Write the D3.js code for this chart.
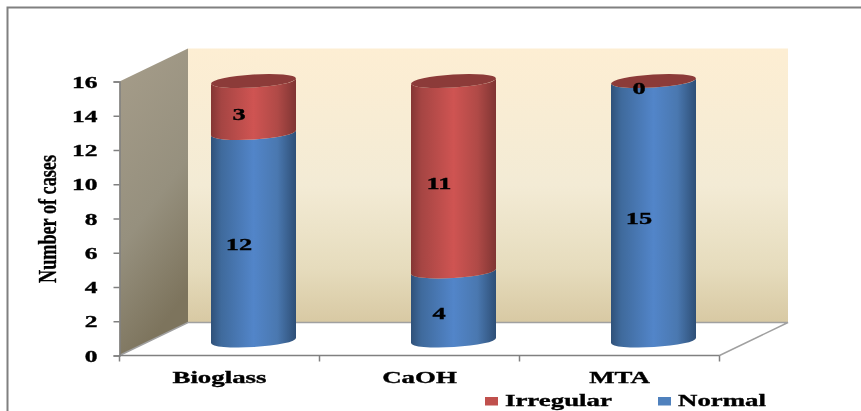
<!DOCTYPE html>
<html>
<head>
<meta charset="utf-8">
<script src="https://cdn.jsdelivr.net/npm/d3@7"></script>
<style>
    body { margin: 0; background: #fff; }
    svg { filter: blur(0.4px); }
    text { font-family: "Liberation Serif", serif; font-weight: bold; fill: #000; stroke: #000; stroke-width: 0.35px; }
</style>
</head>
<body>
<div id="chart"></div>
<script>
// data
const categories = ['Bioglass', 'CaOH', 'MTA']
const normal = [12, 4, 15]
const irregular = [3, 11, 0]
const yTicks = [0, 2, 4, 6, 8, 10, 12, 14, 16]
const seriesNames = ['Normal', 'Irregular']
const legendOrder = ['Irregular', 'Normal']

function draw(){
    const dimensions = { width: 861, height: 411 }
    const stretch = 1.58   // the picture is stretched sideways
    const depth = { x: 68.5, y: -33 }
    const barOffset = 34

    const svg = d3.select('#chart')
        .append('svg')
        .attr('width', dimensions.width)
        .attr('height', dimensions.height)
        .style('display', 'block')

    // frame, only top and left
    svg.append('path')
        .attr('d', 'M7.5,413V7.5H863')
        .attr('fill', 'none')
        .attr('stroke', '#808080')
        .attr('stroke-width', 2)

    // set Scale
    const yScale = d3.scaleLinear().domain([0, 16]).range([355.5, 81.5])
    const barY = d3.scaleLinear().domain([0, 15]).range([340.5, 81])
    const xScale = d3.scaleBand().domain(categories).range([119.5, 719.5])

    const colors = { Normal: '#4f81bd', Irregular: '#c0504d' }

    // gradients
    const defs = svg.append('defs')

    const addLinear = (id, x2, y2, stops) => {
        const g = defs.append('linearGradient').attr('id', id)
            .attr('x1', 0).attr('y1', 0).attr('x2', x2).attr('y2', y2)
        stops.forEach(s => g.append('stop').attr('offset', s[0]).attr('stop-color', s[1]))
    }
    addLinear('backWall', 0, 1, [[0, '#fdeed3'], [0.5, '#f3ebd5'], [0.8, '#e6dcbd'], [1, '#d8c9a3']])
    addLinear('sideWall', 0.3, 1, [[0, '#a69d8a'], [0.6, '#96907e'], [1, '#7d745d']])
    addLinear('cylNormal', 1, 0, [[0, '#2f5179'], [0.12, '#3f6a9c'], [0.5, '#5285c9'], [0.78, '#4a78b0'], [1, '#2e4f77']])
    addLinear('cylIrregular', 1, 0, [[0, '#843634'], [0.12, '#a54543'], [0.5, '#cf5452'], [0.78, '#b04a47'], [1, '#803533']])

    // walls
    const x0 = xScale.range()[0]
    const x1 = xScale.range()[1]
    const yBase = yScale(0)
    const yTop = yScale(16)

    svg.append('polygon')
        .attr('points', [[x0 + depth.x, yTop + depth.y], [x1 + depth.x, yTop + depth.y],
            [x1 + depth.x, yBase + depth.y], [x0 + depth.x, yBase + depth.y]].join(' '))
        .attr('fill', 'url(#backWall)')

    svg.append('polygon')
        .attr('points', [[x0, yTop], [x0 + depth.x, yTop + depth.y],
            [x0 + depth.x, yBase + depth.y], [x0, yBase]].join(' '))
        .attr('fill', 'url(#sideWall)')

    // floor edges
    svg.append('path')
        .attr('d', `M${x0},${yBase}L${x0 + depth.x},${yBase + depth.y}H${x1 + depth.x}L${x1},${yBase}`)
        .attr('fill', 'none')
        .attr('stroke', '#a0a0a0')
        .attr('stroke-width', 1.4)

    // cylinders
    const rx = xScale.bandwidth() * 0.2125
    const ry = 6.6
    const tilt = -3.5
    const lift = rx * Math.sin(-tilt * Math.PI / 180)

    const stackData = d3.stack().keys(seriesNames)(
        categories.map((c, i) => ({ name: c, Normal: normal[i], Irregular: irregular[i] }))
    )

    const center = name => xScale(name) + xScale.bandwidth() / 2 + barOffset

    const sidePath = (cx, yLow, yHigh) => {
        const l = cx - rx
        const r = cx + rx
        return `M${l},${yLow + lift}`
            + `A${rx},${ry} ${tilt} 0 0 ${r},${yLow - lift}`
            + `L${r},${yHigh - lift}`
            + `A${rx},${ry} ${tilt} 0 1 ${l},${yHigh + lift}Z`
    }

    const groups = svg.append('g').selectAll('g')
        .data(stackData)
        .join('g')

    groups.selectAll('path')
        .data(d => d.map(v => ({ key: d.key, v })))
        .join('path')
        .attr('d', d => sidePath(center(d.v.data.name), barY(d.v[0]), barY(d.v[1])))
        .attr('fill', d => `url(#cyl${d.key})`)

    // top caps
    svg.append('g').selectAll('ellipse')
        .data(categories)
        .join('ellipse')
        .attr('transform', (d, i) => `translate(${center(d)},${barY(normal[i] + irregular[i])}) rotate(${tilt})`)
        .attr('rx', rx)
        .attr('ry', ry)
        .attr('fill', '#8c3b39')

    // value labels
    const labels = stackData.flatMap(s => s.map(v => ({ v })))
    svg.append('g').selectAll('text')
        .data(labels)
        .join('text')
        .attr('transform', d => {
            const y = (barY(d.v[0]) + barY(d.v[1])) / 2 + 7.5
            return `translate(${center(d.v.data.name) - 14.5},${y}) scale(1.55,1)`
        })
        .attr('text-anchor', 'middle')
        .attr('dy', '0.33em')
        .style('font-size', '17px')
        .text(d => d.v[1] - d.v[0])

    // y axis
    const yAxis = svg.append('g')
        .attr('transform', `translate(${x0},0)`)
        .call(d3.axisLeft(yScale).tickValues(yTicks).tickSize(6).tickFormat(d3.format('d')))
    yAxis.selectAll('.domain, line').attr('stroke', '#808080').attr('stroke-width', 1.5)
    yAxis.selectAll('text')
        .attr('x', 0)
        .attr('dy', '0.33em')
        .attr('transform', 'translate(-22,0) scale(1.5,1)')
        .style('font-size', '17px')
        .style('font-family', '"Liberation Serif", serif')
        .attr('fill', '#000')

    // x axis, ticks on the band edges
    const xAxis = svg.append('g').attr('transform', `translate(0,${yBase})`)
    xAxis.append('line')
        .attr('x1', x0).attr('x2', x1)
        .attr('stroke', '#808080').attr('stroke-width', 1.5)
    xAxis.selectAll('line.tick')
        .data([...categories.map(c => xScale(c)), x1])
        .join('line')
        .attr('class', 'tick')
        .attr('x1', d => d).attr('x2', d => d)
        .attr('y1', 0).attr('y2', 6)
        .attr('stroke', '#808080').attr('stroke-width', 1.5)
    xAxis.selectAll('text')
        .data(categories)
        .join('text')
        .attr('transform', d => `translate(${xScale(d) + xScale.bandwidth() / 2},27) scale(${stretch},1)`)
        .attr('text-anchor', 'middle')
        .style('font-size', '17px')
        .text(d => d)

    // axis title
    svg.append('text')
        .attr('transform', 'translate(56,219) rotate(-90)')
        .attr('text-anchor', 'middle')
        .attr('textLength', 128)
        .attr('lengthAdjust', 'spacingAndGlyphs')
        .style('font-size', '25px')
        .text('Number of cases')

    // legend
    const legendX = d3.scaleOrdinal().domain(legendOrder).range([485, 658])
    const legend = svg.append('g').selectAll('g')
        .data(legendOrder)
        .join('g')
        .attr('transform', d => `translate(${legendX(d)},397)`)
    legend.append('rect')
        .attr('width', 13)
        .attr('height', 8.5)
        .attr('fill', d => colors[d])
    legend.append('text')
        .attr('transform', `translate(20,8.5) scale(${stretch},1)`)
        .style('font-size', '17px')
        .text(d => d)
}

draw()
</script>
</body>
</html>
